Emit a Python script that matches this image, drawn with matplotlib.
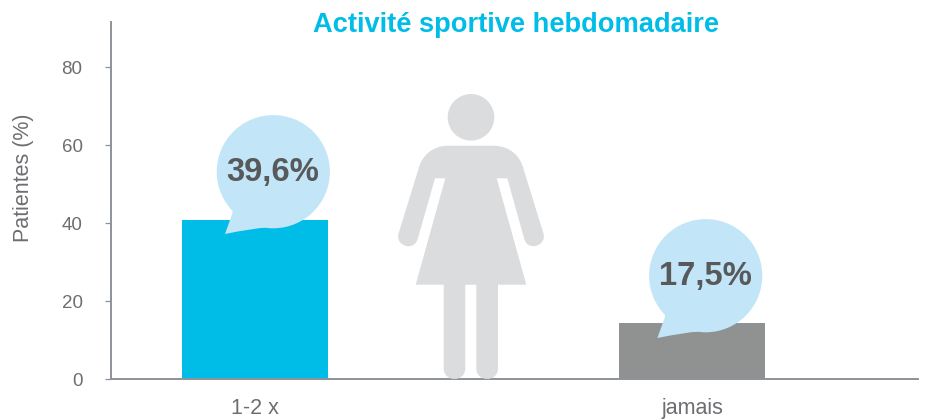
import matplotlib
matplotlib.use("Agg")
import matplotlib.pyplot as plt
from matplotlib.path import Path
from matplotlib.patches import PathPatch, Circle

categories = ["1-2 x", "jamais"]
values = [40.8, 14.4]
bar_colors = ["#00BDE8", "#8F9291"]
bubble_labels = ["39,6%", "17,5%"]
yticks = [0, 20, 40, 60, 80]
title = "Activité sportive hebdomadaire"
ylabel = "Patientes (%)"

W, H = 930, 419
GREY_TXT = "#58595B"
SOFT_TXT = "#6D6E71"
AXIS = "#8D9399"
BUBBLE = "#C2E6F8"
FIG = "#DBDCDE"
plt.rcParams["font.family"] = ["Liberation Sans", "DejaVu Sans"]

fig = plt.figure(figsize=(W / 100, H / 100), dpi=100)
L, R, T, B = 111, 918, 22, 379
ax = fig.add_axes([L / W, 1 - B / H, (R - L) / W, (B - T) / H])
ax.set_xlim(-0.3295, 1.517)
ax.set_ylim(0, (B - T) / 3.9)
ax.bar([0, 1], values, width=0.334, color=bar_colors, zorder=2)
ax.set_xticks([0, 1], categories)
ax.set_yticks(yticks)
ax.tick_params(axis="x", length=0, pad=13.5, labelsize=15.5, labelcolor=SOFT_TXT)
ax.tick_params(axis="y", length=4.5, width=0.9, color=AXIS, pad=16, labelsize=13.5, labelcolor=SOFT_TXT)
for s in ("top", "right"):
    ax.spines[s].set_visible(False)
for s in ("left", "bottom"):
    ax.spines[s].set_color(AXIS)
    ax.spines[s].set_linewidth(1.4)
ax.patch.set_alpha(0)

# overlay in reference pixel coordinates for the pictogram and callouts
ov = fig.add_axes([0, 0, 1, 1], zorder=3)
ov.set_xlim(0, W)
ov.set_ylim(H, 0)
ov.axis("off")

M, LN, C3, C4, CL = Path.MOVETO, Path.LINETO, Path.CURVE3, Path.CURVE4, Path.CLOSEPOLY
verts = [
    (448.3, 145.7), (493.3, 145.7),
    (510, 145.7), (520, 156), (523.3, 168.3),
    (543.3, 233),
    (547.3, 246), (528, 252), (524.3, 239),
    (507.3, 178.3), (496.7, 178.3),
    (526.3, 284.7), (498, 284.7), (498, 368.2),
    (498, 382.6), (476.3, 382.6), (476.3, 368.2),
    (476.3, 284.7), (465.3, 284.7), (465.3, 368.2),
    (465.3, 382.6), (443.7, 382.6), (443.7, 368.2),
    (443.7, 284.7), (415.7, 284.7), (445.3, 178.3), (435, 178.3),
    (417.7, 239),
    (414, 252), (394.7, 246), (398.7, 233),
    (418.7, 168.3),
    (422, 156), (432, 145.7), (448.3, 145.7),
    (448.3, 145.7),
]
codes = [
    M, LN,
    C4, C4, C4,
    LN,
    C4, C4, C4,
    LN, LN,
    LN, LN, LN,
    C4, C4, C4,
    LN, LN, LN,
    C4, C4, C4,
    LN, LN, LN, LN,
    LN,
    C4, C4, C4,
    LN,
    C4, C4, C4,
    CL,
]
ov.add_patch(PathPatch(Path(verts, codes), fc=FIG, ec="none"))
ov.add_patch(Circle((471, 117.3), 23.3, fc=FIG, ec="none"))

centers = [(273.3, 171.7), (705.7, 275.7)]
for (cx, cy), lab in zip(centers, bubble_labels):
    ov.add_patch(Circle((cx, cy), 56.6, fc=BUBBLE, ec="none"))
    tail = Path(
        [(cx - 46, cy + 30), (cx - 39, cy + 38), (cx - 41, cy + 42), (cx - 48.3, cy + 62.3),
         (cx - 20, cy + 56.5), (cx - 8, cy + 56), (cx - 10, cy + 40), (cx - 46, cy + 30)],
        [M, C3, C3, LN, C3, C3, LN, CL],
    )
    ov.add_patch(PathPatch(tail, fc=BUBBLE, ec="none"))
    ov.text(cx - 0.5, cy + 1.2, lab, ha="center", va="center", fontsize=23.6,
            fontweight="bold", color=GREY_TXT)

ov.text(516, 25, title, ha="center", va="center", fontsize=19.6, fontweight="bold", color="#00BDE8")
ov.text(23, 177.5, ylabel, rotation=90, ha="center", va="center", fontsize=15.5, color=SOFT_TXT)

fig.savefig("out.png", dpi=100)
